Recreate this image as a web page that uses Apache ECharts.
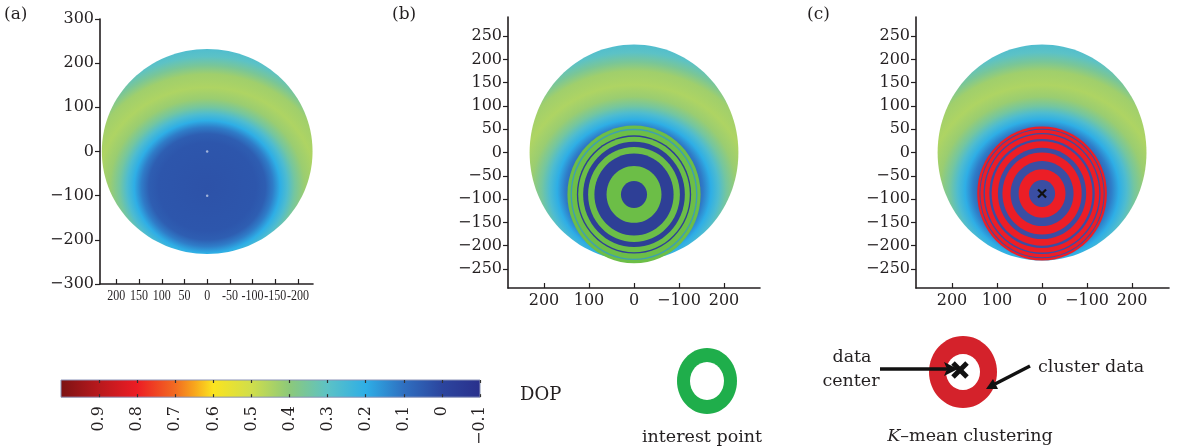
<!DOCTYPE html>
<html><head><meta charset="utf-8">
<script src="https://cdn.jsdelivr.net/npm/echarts@6.0.0/dist/echarts.min.js"></script>
<style>html,body{margin:0;padding:0;background:#fff}#c{width:1180px;height:448px}</style>
</head><body><div id="c"></div><script>
// ---------------- data ----------------
const panelLabels = ['(a)', '(b)', '(c)'];
const diskCenter = [0, 0];
const diskRadius = 232;
const fieldCenter = [0, -80];
// radial DOP profile of the field (distance from field centre -> DOP)
const dopRadius = [0, 100, 120, 135, 150, 165, 180, 200, 225, 255, 275, 295, 315, 340];
const dopValue  = [0.03, 0.04, 0.06, 0.12, 0.20, 0.27, 0.35, 0.42, 0.45, 0.43, 0.36, 0.30, 0.27, 0.25];
// colour scale (DOP value -> colour)
const cmapValue = [1.0, 0.9, 0.8, 0.7, 0.65, 0.6, 0.5, 0.4, 0.3, 0.2, 0.1, 0.0, -0.1];
const cmapColor = ['#7c1214', '#b8191d', '#ec1c24', '#f26b21', '#f8a51c', '#fbe41f', '#d0de4b', '#8cc97a', '#5cc2c6', '#2eaee6', '#2f6fc0', '#2c459e', '#29308c'];
const barTicks = [0.9, 0.8, 0.7, 0.6, 0.5, 0.4, 0.3, 0.2, 0.1, 0, -0.1];
// axes ticks
const aXTicks = [200, 150, 100, 50, 0, -50, -100, -150, -200];
const aYTicks = [300, 200, 100, 0, -100, -200, -300];
const bcXTicks = [200, 100, 0, -100, -200];
const bcXTickText = ['200', '100', '0', '\u2212100', '200'];
const bcYTicks = [250, 200, 150, 100, 50, 0, -50, -100, -150, -200, -250];
// interest point rings (b): radii from outer to inner, band class
const interestCenter = [0, -90];
const interestRadii = [148, 141, 138, 127, 124, 113, 102, 88, 61, 29];
const interestClass = ['g', 't', 'g', 'b', 'g', 'b', 'g', 'b', 'g', 'b'];
// K-mean clustering rings (c)
const clusterCenter = [0, -88];
const clusterRadii = [144, 139, 137, 130, 127, 117, 112, 98, 88, 70, 52, 29];
const clusterClass = ['r', 'b', 'r', 'b', 'r', 'b', 'r', 'b', 'r', 'b', 'r', 'b'];
const aMarkers = [[0, 0], [0, -100]];

// ---------------- style ----------------
const SERIF = 'DejaVu Serif';
const INK = '#231f20';
const interestPalette = {g: '#6cbe47', t: '#3f9fb0', b: '#2e3f96'};
const clusterPalette = {r: '#ec1e26', b: '#3a4ea3', t: '#4b8fc4'};
const fieldStretch = 1.1;

function hex(h){return [parseInt(h.slice(1,3),16),parseInt(h.slice(3,5),16),parseInt(h.slice(5,7),16)];}
function dopColor(v){
  if (v >= cmapValue[0]) return cmapColor[0];
  for (let i = 0; i < cmapValue.length - 1; i++) {
    const a = cmapValue[i], b = cmapValue[i+1];
    if (v <= a && v >= b) {
      const t = (a - v) / (a - b);
      const ca = hex(cmapColor[i]), cb = hex(cmapColor[i+1]);
      const c = ca.map((x, k) => Math.round(x + (cb[k] - x) * t));
      return 'rgb(' + c.join(',') + ')';
    }
  }
  return cmapColor[cmapColor.length - 1];
}
const dMax = dopRadius[dopRadius.length - 1];
const fieldStops = dopRadius.map((d, i) => ({offset: d / dMax, color: dopColor(dopValue[i])}));

function renderField(params, api) {
  const c = api.coord([api.value(0), api.value(1)]);
  const R = api.value(2);
  const s = api.size([R, R]);
  const fc = api.coord(fieldCenter);
  const unitY = api.size([0, 1])[1];
  const k = fieldStretch;
  return {
    type: 'ellipse', x: c[0], y: c[1], scaleX: k,
    shape: {cx: 0, cy: 0, rx: s[0] / k, ry: s[1]},
    style: {fill: {type: 'radial', x: (fc[0] - c[0]) / k, y: fc[1] - c[1], r: dMax * unitY, global: true, colorStops: fieldStops}}
  };
}
function ringRenderer(classes, palette) {
  return function (params, api) {
    const c = api.coord([api.value(0), api.value(1)]);
    const s = api.size([api.value(2), api.value(2)]);
    return {type: 'ellipse', shape: {cx: c[0], cy: c[1], rx: s[0], ry: s[1]}, style: {fill: palette[classes[params.dataIndex]], stroke: null}};
  };
}
function renderCross(params, api) {
  const c = api.coord([api.value(0), api.value(1)]);
  const h = 4;
  const ls = {stroke: '#111', lineWidth: 2.2};
  return {type: 'group', children: [
    {type: 'line', shape: {x1: c[0]-h, y1: c[1]-h, x2: c[0]+h, y2: c[1]+h}, style: ls},
    {type: 'line', shape: {x1: c[0]-h, y1: c[1]+h, x2: c[0]+h, y2: c[1]-h}, style: ls}
  ]};
}
function renderTickText(params, api) {
  const p = api.coord([api.value(0), api.value(1)]);
  return {type: 'text', x: p[0], y: p[1] + 5, scaleX: 0.8,
    style: {text: String(api.value(0)), font: '15px "Liberation Serif"', fill: INK, align: 'center', verticalAlign: 'top'}};
}
function renderBar(params, api) {
  const p0 = api.coord([api.value(0), 0]);
  const p1 = api.coord([api.value(1), 1]);
  const x = Math.min(p0[0], p1[0]), w = Math.abs(p1[0] - p0[0]);
  const y = Math.min(p0[1], p1[1]), h = Math.abs(p1[1] - p0[1]);
  const lo = api.value(1), hi = api.value(0);
  const stops = cmapValue.map((v, i) => ({offset: (hi - v) / (hi - lo), color: cmapColor[i]}));
  return {type: 'rect', shape: {x, y, width: w, height: h},
    style: {fill: {type: 'linear', x: 0, y: 0, x2: 1, y2: 0, colorStops: stops}, stroke: '#8a93b8', lineWidth: 1}};
}

const lineStyle = {color: INK, width: 1.6};
function minus(v){ return v < 0 ? '\u2212' + (-v) : String(v); }
function xAxisPanel(grid, min, max, ticks, fmt, font, size, margin, showLabel) {
  return {gridIndex: grid, type: 'value', inverse: true, min, max,
    axisLine: {onZero: false, lineStyle},
    axisTick: {inside: true, length: 5, customValues: ticks, lineStyle: {color: INK, width: 1.2}},
    axisLabel: {show: showLabel, customValues: ticks, formatter: fmt, fontFamily: font, fontSize: size, color: INK, margin,
      hideOverlap: false, showMinLabel: true, showMaxLabel: true},
    splitLine: {show: false}};
}
function yAxisPanel(grid, min, max, ticks) {
  return {gridIndex: grid, type: 'value', min, max,
    axisLine: {onZero: false, lineStyle},
    axisTick: {inside: false, length: 5, customValues: ticks, lineStyle: {color: INK, width: 1.2}},
    axisLabel: {customValues: ticks, formatter: minus, fontFamily: SERIF, fontSize: 16, color: INK, margin: 6,
      hideOverlap: false, showMinLabel: true, showMaxLabel: true},
    splitLine: {show: false}};
}

const option = {
  animation: false,
  backgroundColor: '#fff',
  grid: [
    {left: 100, top: 19, width: 213, height: 265},
    {left: 508, top: 17, width: 252, height: 271},
    {left: 916, top: 17, width: 253, height: 271},
    {left: 61, top: 380, width: 419, height: 23}
  ],
  xAxis: [
    xAxisPanel(0, -233, 236, aXTicks, v => String(v), 'Liberation Serif', 14, 5, false),
    xAxisPanel(1, -280, 280, bcXTicks, v => bcXTickText[bcXTicks.indexOf(v)], SERIF, 16, 5, true),
    xAxisPanel(2, -282, 280, bcXTicks, v => bcXTickText[bcXTicks.indexOf(v)], SERIF, 16, 5, true),
    {gridIndex: 3, type: 'value', inverse: true, min: -0.1, max: 1.0, z: 10, position: 'bottom',
      axisLine: {show: false}, splitLine: {show: false},
      axisTick: {inside: true, length: 3, customValues: barTicks, lineStyle: {color: '#333', width: 1.2}},
      axisLabel: {customValues: barTicks, rotate: 90, margin: 9, fontFamily: SERIF, fontSize: 16, color: INK,
        hideOverlap: false, showMinLabel: true, showMaxLabel: true,
        formatter: v => Math.abs(v) < 1e-9 ? '0' : v.toFixed(1).replace('-', '\u2212')}},
    {gridIndex: 3, type: 'value', inverse: true, min: -0.1, max: 1.0, z: 10, position: 'top',
      axisLine: {show: false}, splitLine: {show: false},
      axisTick: {inside: true, length: 3, customValues: barTicks, lineStyle: {color: '#333', width: 1.2}},
      axisLabel: {show: false}}
  ],
  yAxis: [
    yAxisPanel(0, -300, 300, aYTicks),
    yAxisPanel(1, -291, 291, bcYTicks),
    yAxisPanel(2, -291, 291, bcYTicks),
    {gridIndex: 3, type: 'value', min: 0, max: 1, show: false}
  ],
  series: [
    {type: 'custom', xAxisIndex: 0, yAxisIndex: 0, clip: false, renderItem: renderField, data: [[diskCenter[0], diskCenter[1], diskRadius]]},
    {type: 'scatter', xAxisIndex: 0, yAxisIndex: 0, symbolSize: 2.5, itemStyle: {color: 'rgba(255,255,255,0.7)'}, data: aMarkers, z: 5},
    {type: 'custom', xAxisIndex: 0, yAxisIndex: 0, clip: false, renderItem: renderTickText, data: aXTicks.map(v => [v, aYTicks[aYTicks.length - 1]])},
    {type: 'custom', xAxisIndex: 1, yAxisIndex: 1, clip: false, renderItem: renderField, data: [[diskCenter[0], diskCenter[1], diskRadius]]},
    {type: 'custom', xAxisIndex: 1, yAxisIndex: 1, clip: false, z: 3, renderItem: ringRenderer(interestClass, interestPalette),
      data: interestRadii.map(r => [interestCenter[0], interestCenter[1], r])},
    {type: 'custom', xAxisIndex: 2, yAxisIndex: 2, clip: false, renderItem: renderField, data: [[diskCenter[0], diskCenter[1], diskRadius]]},
    {type: 'custom', xAxisIndex: 2, yAxisIndex: 2, clip: false, z: 3, renderItem: ringRenderer(clusterClass, clusterPalette),
      data: clusterRadii.map(r => [clusterCenter[0], clusterCenter[1], r])},
    {type: 'custom', xAxisIndex: 2, yAxisIndex: 2, clip: false, z: 4, renderItem: renderCross, data: [clusterCenter]},
    {type: 'custom', xAxisIndex: 3, yAxisIndex: 3, clip: false, renderItem: renderBar, data: [[1.0, -0.1]]}
  ],
  graphic: [
    {type: 'text', left: 4, top: 6, style: {text: panelLabels[0], font: '17px "DejaVu Serif"', fill: INK}},
    {type: 'text', left: 392, top: 6, style: {text: panelLabels[1], font: '17px "DejaVu Serif"', fill: INK}},
    {type: 'text', left: 807, top: 6, style: {text: panelLabels[2], font: '17px "DejaVu Serif"', fill: INK}},
    {type: 'text', left: 520, top: 386, style: {text: 'DOP', font: '18px "DejaVu Serif"', fill: INK}},
    // interest point legend
    {type: 'ellipse', shape: {cx: 707, cy: 381, rx: 30, ry: 33}, style: {fill: '#1fae4b'}},
    {type: 'ellipse', shape: {cx: 707, cy: 381, rx: 17, ry: 19}, style: {fill: '#fff'}},
    {type: 'text', x: 702, y: 437, style: {text: 'interest point', font: '17.5px "DejaVu Serif"', fill: INK, align: 'center', verticalAlign: 'middle'}},
    // K-mean legend
    {type: 'ellipse', shape: {cx: 963, cy: 372, rx: 34, ry: 36}, style: {fill: '#d4222b'}},
    {type: 'ellipse', shape: {cx: 963, cy: 372, rx: 17, ry: 18}, style: {fill: '#fff'}},
    {type: 'line', shape: {x1: 953, y1: 363, x2: 967, y2: 377}, style: {stroke: '#111', lineWidth: 5}},
    {type: 'line', shape: {x1: 953, y1: 377, x2: 967, y2: 363}, style: {stroke: '#111', lineWidth: 5}},
    {type: 'line', shape: {x1: 880, y1: 369, x2: 947, y2: 369}, style: {stroke: '#111', lineWidth: 3.5}},
    {type: 'polygon', shape: {points: [[958, 369], [944, 362], [947, 369], [944, 376]]}, style: {fill: '#111'}},
    {type: 'line', shape: {x1: 1030, y1: 366, x2: 995, y2: 384}, style: {stroke: '#111', lineWidth: 3.5}},
    {type: 'polygon', shape: {points: [[986, 389], [998, 389], [993, 379]]}, style: {fill: '#111'}},
    {type: 'text', x: 852, y: 357, style: {text: 'data', font: '17.5px "DejaVu Serif"', fill: INK, align: 'center', verticalAlign: 'middle'}},
    {type: 'text', x: 851, y: 381, style: {text: 'center', font: '17.5px "DejaVu Serif"', fill: INK, align: 'center', verticalAlign: 'middle'}},
    {type: 'text', x: 1038, y: 367, style: {text: 'cluster data', font: '17.5px "DejaVu Serif"', fill: INK, align: 'left', verticalAlign: 'middle'}},
    {type: 'text', x: 970, y: 436, style: {
      text: '{k|K}\u2013mean clustering', font: '17.5px "DejaVu Serif"', fill: INK, align: 'center', verticalAlign: 'middle',
      rich: {k: {fontStyle: 'italic', fontFamily: 'DejaVu Serif', fontSize: 17.5, fill: INK}}}}
  ]
};
const chart = echarts.init(document.getElementById('c'), null, {renderer: 'canvas'});
chart.setOption(option);
</script></body></html>
